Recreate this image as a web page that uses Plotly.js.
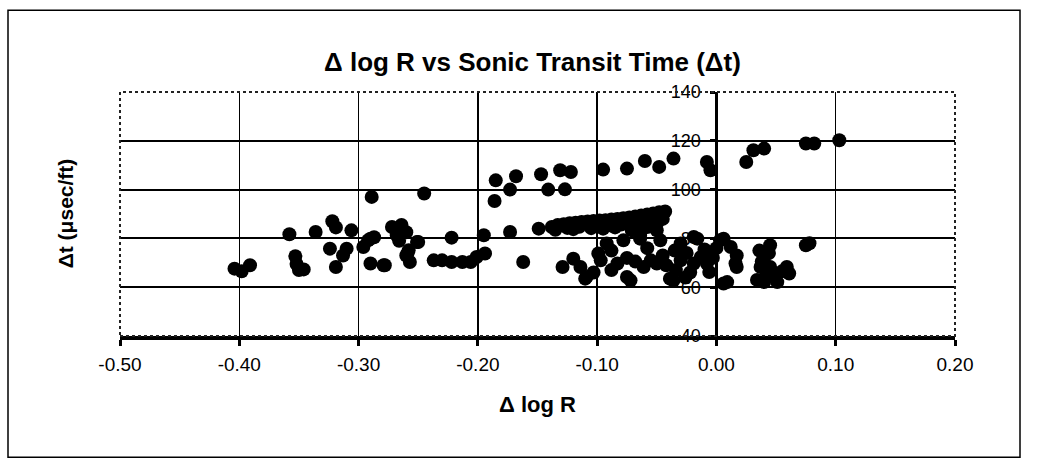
<!DOCTYPE html>
<html>
<head>
<meta charset="utf-8">
<script src="https://cdn.plot.ly/plotly-3.0.1.min.js"></script>
<style>
html,body{margin:0;padding:0;background:#fff;}
#chart{width:1044px;height:459px;}
</style>
</head>
<body>
<div id="chart"></div>
<script>
// Δ log R values (x) and sonic transit time Δt (y)
const dlogR = [
  -0.404,-0.398,-0.391,-0.358,-0.353,-0.352,-0.350,-0.346,-0.336,-0.322,-0.319,-0.306,-0.324,-0.310,-0.313,-0.319,
  -0.289,-0.245,-0.292,-0.287,-0.290,-0.296,-0.290,-0.278,-0.279,-0.272,-0.264,-0.260,-0.268,-0.266,-0.250,-0.251,-0.258,-0.260,-0.259,-0.257,
  -0.237,-0.230,-0.222,-0.222,-0.213,-0.206,-0.201,-0.195,-0.194,
  -0.185,-0.186,-0.173,-0.168,-0.147,-0.141,-0.131,-0.122,-0.127,-0.095,-0.075,-0.060,-0.048,-0.036,-0.008,-0.005,
  0.025,0.031,0.040,0.075,0.082,0.103,
  -0.173,-0.149,-0.138,-0.133,-0.128,-0.123,-0.118,-0.113,-0.108,-0.103,-0.098,-0.093,-0.088,-0.083,-0.078,-0.073,
  -0.068,-0.063,-0.058,-0.053,-0.048,-0.043,-0.125,-0.115,-0.100,-0.090,-0.080,-0.070,-0.062,-0.055,-0.050,-0.071,
  -0.064,-0.058,-0.050,-0.047,-0.135,-0.120,-0.105,-0.095,-0.085,-0.066,-0.045,
  -0.162,-0.129,-0.120,-0.114,-0.109,-0.103,-0.099,-0.097,-0.092,-0.088,-0.083,-0.078,-0.075,-0.075,-0.072,-0.068,
  -0.064,-0.061,-0.058,-0.055,-0.050,-0.045,-0.039,-0.036,-0.035,-0.030,-0.030,-0.025,-0.022,-0.019,-0.019,-0.016,
  -0.013,-0.010,-0.008,-0.006,-0.003,0.000,0.003,0.006,0.006,0.009,0.012,0.016,0.017,0.017,-0.026,-0.042,
  -0.034,-0.088,-0.110,
  0.036,0.040,0.037,0.045,0.045,0.042,0.040,0.051,0.048,0.059,0.061,0.055,0.075,0.078,0.038,0.044,0.034
];
const deltaT = [
  67.6,66.5,69.0,81.7,72.7,69.5,67.0,67.3,82.6,87.0,84.5,83.3,75.8,75.8,73.0,68.3,
  97.0,98.4,79.2,80.5,79.9,76.5,69.7,69.0,69.0,84.7,85.5,82.5,81.3,79.0,78.5,78.5,75.1,73.0,73.8,70.3,
  71.0,71.0,80.3,70.3,70.3,70.3,72.4,81.3,73.8,
  103.8,95.3,100.0,105.5,106.3,100.0,107.9,107.2,100.1,108.2,108.6,111.7,109.3,112.7,111.3,107.9,
  111.3,116.1,116.8,118.9,118.9,120.2,
  82.6,84.0,84.7,85.5,85.8,86.2,86.4,86.7,86.9,87.1,87.3,87.4,87.7,88.0,88.3,88.6,
  89.0,89.4,89.8,90.2,90.7,91.0,84.3,84.8,85.2,85.4,85.7,86.0,86.5,87.5,86.0,83.3,
  81.3,84.7,83.3,79.2,83.5,83.8,84.2,84.0,84.5,84.8,88.0,
  70.3,68.3,71.7,68.3,64.2,66.0,73.8,71.0,77.9,75.0,69.7,79.2,72.0,64.2,62.8,70.5,
  79.9,68.3,76.0,71.0,69.7,73.0,63.5,62.8,75.0,77.9,71.0,74.0,66.0,69.7,80.6,79.9,
  72.4,75.5,69.7,66.2,72.0,76.0,79.2,61.5,79.9,62.1,76.5,69.7,68.3,73.0,64.0,69.0,
  67.0,67.0,63.5,
  75.0,72.4,68.3,77.2,68.3,65.0,62.1,62.1,64.5,68.3,65.6,66.5,77.2,78.0,70.5,74.0,63.0
];
const xTicks = [-0.5,-0.4,-0.3,-0.2,-0.1,0.0,0.1,0.2];
const xTickText = ["-0.50","-0.40","-0.30","-0.20","-0.10","0.00","0.10","0.20"];
const yTicks = [40,60,80,100,120,140];
const yTickText = ["40","60","80","100","120","140"];
const xRange = [-0.5, 0.2];
const yRange = [40, 140];

const trace = {
  x: dlogR, y: deltaT, type: 'scatter', mode: 'markers',
  marker: {color: '#000', size: 14, line: {width: 0}},
  hoverinfo: 'x+y'
};

const yPos = (0 - xRange[0]) / (xRange[1] - xRange[0]);

const layout = {
  width: 1044, height: 459,
  margin: {l: 120, r: 89, t: 92, b: 123},
  paper_bgcolor: '#fff', plot_bgcolor: '#fff',
  showlegend: false,
  font: {family: 'Liberation Sans, Arial, sans-serif', color: '#000'},
  title: {
    text: '<b>Δ log R vs Sonic Transit Time (Δt)</b>',
    font: {size: 26, family: 'Liberation Sans, Arial, sans-serif', color: '#000'},
    x: 0.51, xanchor: 'center', y: 0.865, yanchor: 'middle'
  },
  xaxis: {
    range: xRange, tickvals: xTicks, ticktext: xTickText,
    showgrid: true, gridcolor: '#000', gridwidth: 1.5,
    zeroline: false, showline: true, linecolor: '#000', linewidth: 4,
    ticks: 'outside', ticklen: 6, tickwidth: 3, tickcolor: '#000',
    ticklabelstandoff: 2,
    tickfont: {size: 19, color: '#000'},
    title: {text: '<b>Δ log R</b>', font: {size: 22, color: '#000'}, standoff: 24}
  },
  yaxis: {
    range: yRange, tickvals: yTicks, ticktext: yTickText,
    anchor: 'free', position: yPos,
    showgrid: true, gridcolor: '#000', gridwidth: 2,
    zeroline: false, showline: true, linecolor: '#000', linewidth: 3,
    ticks: 'outside', ticklen: 5, tickwidth: 3, tickcolor: '#000',
    ticklabelstandoff: 6,
    tickfont: {size: 18, color: '#000'}
  },
  annotations: [{
    text: '<b>Δt (μsec/ft)</b>', textangle: -90,
    xref: 'paper', yref: 'paper',
    x: (65 - 120) / 835, y: (335.7 - 213) / 244,
    xanchor: 'center', yanchor: 'middle', showarrow: false,
    font: {size: 21, color: '#000'}
  }],
  shapes: [
    {type: 'rect', xref: 'paper', yref: 'paper', x0: 0, x1: 1, y0: 0, y1: 1,
     line: {color: '#222', width: 2, dash: 'dot'}, layer: 'above'},
    {type: 'rect', xref: 'paper', yref: 'paper',
     x0: (8 - 120) / 835, x1: (1020 - 120) / 835,
     y0: (335.7 - 457) / 244, y1: (335.7 - 10) / 244,
     line: {color: '#000', width: 1.5}, layer: 'below'}
  ]
};

Plotly.newPlot('chart', [trace], layout, {displayModeBar: false, staticPlot: true});
</script>
</body>
</html>
